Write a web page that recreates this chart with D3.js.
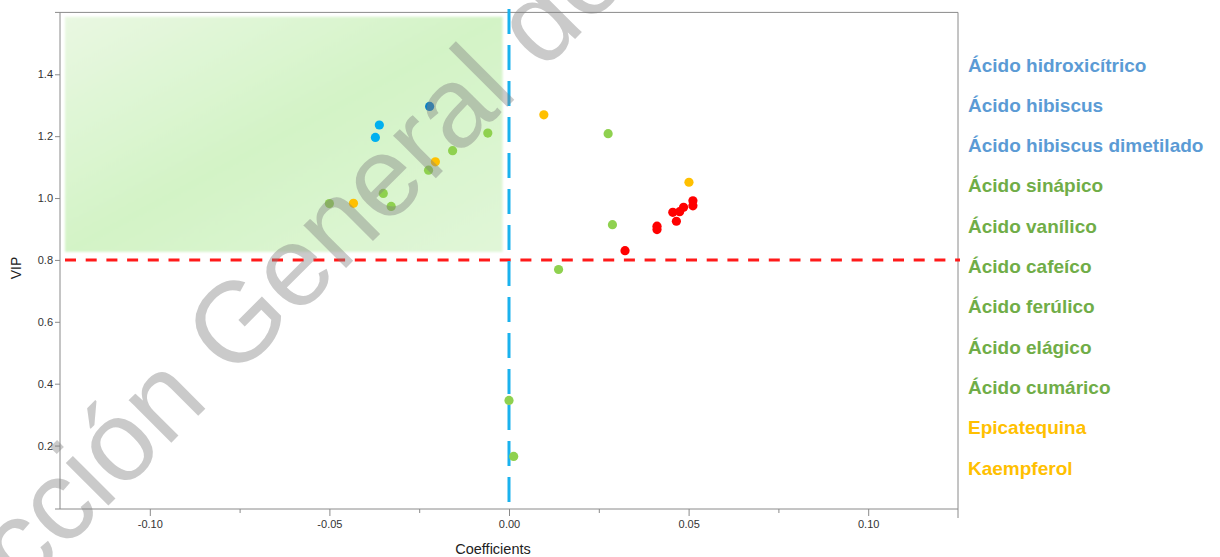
<!DOCTYPE html>
<html>
<head>
<meta charset="utf-8">
<script src="https://cdn.jsdelivr.net/npm/d3@7/dist/d3.min.js"></script>
<style>
  html, body { margin: 0; padding: 0; background: #fff; }
  svg { display: block; }
</style>
</head>
<body>
<svg id="chart" width="1220" height="557"></svg>
<script>
// ---- data: [coefficient, VIP] ----
const lightBluePts = [[-0.0361, 1.236], [-0.0372, 1.196]];
const darkBluePts  = [[-0.0221, 1.296]];
const greenPts = [
  [-0.0059, 1.210], [-0.0157, 1.153], [-0.0224, 1.090], [-0.0350, 1.015],
  [-0.0328, 0.973], [-0.0500, 0.982], [0.0276, 1.208], [0.0288, 0.914],
  [0.0138, 0.769], [0.0000, 0.346], [0.0013, 0.165]
];
const orangePts = [[-0.0205, 1.117], [-0.0433, 0.983], [0.0097, 1.269], [0.0501, 1.051]];
const redPts = [
  [0.0323, 0.830], [0.0412, 0.909], [0.0412, 0.898], [0.0466, 0.925],
  [0.0456, 0.954], [0.0475, 0.956], [0.0486, 0.970], [0.0512, 0.991],
  [0.0512, 0.975]
];

const xTicks = [-0.10, -0.05, 0.00, 0.05, 0.10];
const xMinorTicks = [-0.075, -0.025, 0.025, 0.075];
const yTicks = [0.2, 0.4, 0.6, 0.8, 1.0, 1.2, 1.4];

const vipThreshold = 0.8;
const coefZero = 0;
// highlighted region: [xMin, xMax] x [yMin, yMax]
const regionX = [-0.1236, -0.0018];
const regionY = [0.826, 1.586];

const legendLabels = [
  "Ácido hidroxicítrico", "Ácido hibiscus", "Ácido hibiscus dimetilado",
  "Ácido sinápico", "Ácido vanílico", "Ácido cafeíco", "Ácido ferúlico",
  "Ácido elágico", "Ácido cumárico", "Epicatequina", "Kaempferol"
];
const legendColors = [
  "#5b9bd5", "#5b9bd5", "#5b9bd5",
  "#70ad47", "#70ad47", "#70ad47", "#70ad47", "#70ad47", "#70ad47",
  "#ffc000", "#ffc000"
];

// ---- layout ----
const svg = d3.select("#chart");
const x = d3.scaleLinear().domain([-0.125, 0.125]).range([60, 958]);
const y = d3.scaleLinear().domain([-0.005, 1.6]).range([509, 12.4]);
const axisColor = "#8a8a8a";

// gradient + soft edge for the highlighted region
const defs = svg.append("defs");
const grad = defs.append("linearGradient").attr("id", "regionGrad")
  .attr("x1", "0%").attr("y1", "0%").attr("x2", "100%").attr("y2", "100%");
grad.append("stop").attr("offset", "0%").attr("stop-color", "#e9f8e2");
grad.append("stop").attr("offset", "50%").attr("stop-color", "#d3f3c6");
grad.append("stop").attr("offset", "100%").attr("stop-color", "#e1f6d8");
defs.append("filter").attr("id", "softEdge")
  .attr("x", "-2%").attr("y", "-2%").attr("width", "104%").attr("height", "104%")
  .append("feGaussianBlur").attr("stdDeviation", 0.9);

svg.append("rect")
  .attr("x", x(regionX[0])).attr("y", y(regionY[1]))
  .attr("width", x(regionX[1]) - x(regionX[0]))
  .attr("height", y(regionY[0]) - y(regionY[1]))
  .attr("fill", "url(#regionGrad)")
  .attr("filter", "url(#softEdge)");

// frame
const frame = svg.append("g").attr("stroke", axisColor).attr("stroke-width", 1).attr("fill", "none");
frame.append("line").attr("x1", 55).attr("x2", x(0.125)).attr("y1", y(1.6)).attr("y2", y(1.6));
frame.append("line").attr("x1", x(-0.125)).attr("x2", x(-0.125)).attr("y1", y(1.6)).attr("y2", y(-0.005));
frame.append("line").attr("x1", x(0.125)).attr("x2", x(0.125)).attr("y1", y(1.6)).attr("y2", y(-0.005) + 9);
frame.append("line").attr("x1", 55).attr("x2", x(0.125)).attr("y1", y(-0.005)).attr("y2", y(-0.005));

// y axis
const yAxis = svg.append("g").attr("transform", `translate(${x(-0.125)},0)`)
  .call(d3.axisLeft(y).tickValues(yTicks).tickSize(5).tickPadding(2)
    .tickFormat(d => d.toFixed(1)));
yAxis.select(".domain").remove();
yAxis.selectAll("line").attr("stroke", axisColor);
yAxis.selectAll("text").attr("fill", "#333").style("font", "11px 'Liberation Sans', Arial, sans-serif");

// x axis
const xAxis = svg.append("g").attr("transform", `translate(0,${y(-0.005)})`)
  .call(d3.axisBottom(x).tickValues(xTicks).tickSize(7).tickPadding(4)
    .tickFormat(d => d.toFixed(2)));
xAxis.select(".domain").remove();
xAxis.selectAll("line").attr("stroke", axisColor);
xAxis.selectAll("text").attr("fill", "#333").style("font", "11px 'Liberation Sans', Arial, sans-serif");

const xMinor = svg.append("g").attr("transform", `translate(0,${y(-0.005)})`)
  .call(d3.axisBottom(x).tickValues(xMinorTicks).tickSize(4).tickFormat(""));
xMinor.select(".domain").remove();
xMinor.selectAll("line").attr("stroke", axisColor);

// axis titles
svg.append("text").attr("x", 493).attr("y", 554).attr("text-anchor", "middle")
  .attr("fill", "#222").style("font", "14.5px 'Liberation Sans', Arial, sans-serif")
  .text("Coefficients");
svg.append("text").attr("transform", "translate(21,268) rotate(-90)").attr("text-anchor", "middle")
  .attr("fill", "#222").style("font", "14px 'Liberation Sans', Arial, sans-serif")
  .text("VIP");

// reference lines
svg.append("line")
  .attr("x1", 65).attr("x2", 960).attr("y1", y(vipThreshold)).attr("y2", y(vipThreshold))
  .attr("stroke", "#ff1a1a").attr("stroke-width", 3).attr("stroke-dasharray", "11,9.7");
svg.append("line")
  .attr("x1", x(coefZero)).attr("x2", x(coefZero)).attr("y1", 9).attr("y2", y(-0.005))
  .attr("stroke", "#1ab2ee").attr("stroke-width", 3).attr("stroke-dasharray", "25,11");

// points
const series = [
  { pts: redPts, color: "#ff0000" },
  { pts: greenPts, color: "#8fd14f" },
  { pts: orangePts, color: "#ffc000" },
  { pts: lightBluePts, color: "#00b0f0" },
  { pts: darkBluePts, color: "#0a7fc4" }
];
series.forEach(s => {
  svg.append("g").selectAll("circle").data(s.pts).join("circle")
    .attr("cx", d => x(d[0])).attr("cy", d => y(d[1])).attr("r", 4.6)
    .attr("fill", s.color);
});

// legend
svg.append("g").selectAll("text").data(legendLabels).join("text")
  .attr("x", 968).attr("y", (d, i) => 71.5 + i * 40.3)
  .attr("fill", (d, i) => legendColors[i])
  .style("font", "bold 19px 'Liberation Sans', Arial, sans-serif")
  .text(d => d);

// watermark
const wmFont = "114px 'Liberation Sans', Arial, sans-serif";
const wmLead = "Dirección ";
const probe = svg.append("text").style("font", wmFont).style("white-space", "pre").text(wmLead);
const leadW = probe.node().getComputedTextLength();
probe.remove();
svg.append("text")
  .attr("transform", "translate(233,381) rotate(-45)")
  .attr("x", -leadW)
  .attr("fill", "#808080").attr("fill-opacity", 0.42)
  .style("font", wmFont)
  .text("Dirección General de Bibliotecas");
</script>
</body>
</html>
